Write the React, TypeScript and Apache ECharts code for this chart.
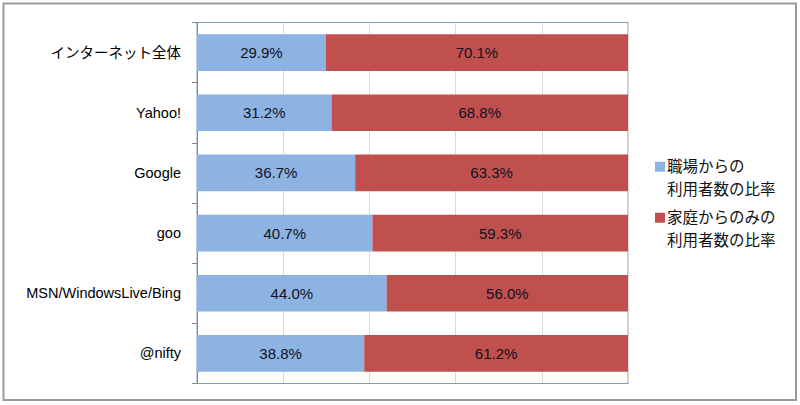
import React, { useEffect, useRef } from "react";
import * as echarts from "echarts";

const categories = ["インターネット全体", "Yahoo!", "Google", "goo", "MSN/WindowsLive/Bing", "@nifty"];
const workShare = [29.9, 31.2, 36.7, 40.7, 44.0, 38.8];
const homeOnlyShare = [70.1, 68.8, 63.3, 59.3, 56.0, 61.2];
const seriesNames = ["職場からの利用者数の比率", "家庭からのみの利用者数の比率"];
const legendLines = [
  ["職場からの", "利用者数の比率"],
  ["家庭からのみの", "利用者数の比率"],
];
const colors = ["#8DB3E2", "#C0504D"];

const FONT = "'Liberation Sans', Arial, 'Noto Sans CJK JP', sans-serif";

export default function App() {
  const ref = useRef<HTMLDivElement>(null);
  useEffect(() => {
    if (!ref.current) return;
    const chart = echarts.init(ref.current, null, { renderer: "svg" });
    const labelCfg = {
      show: true,
      position: "inside",
      color: "#111122",
      fontSize: 15,
      fontFamily: FONT,
      formatter: (p: any) => Number(p.value).toFixed(1) + "%",
    };
    const legendFor = (i: number, top: number) => ({
      data: [seriesNames[i]],
      left: 650,
      top,
      orient: "vertical",
      itemWidth: 10,
      itemHeight: 10,
      itemGap: 0,
      icon: "rect",
      selectedMode: false,
      textStyle: { fontSize: 15.5, fontFamily: FONT, color: "#111", lineHeight: 22.5, padding: [0, 0, 0, -3] },
      formatter: () => "\n" + legendLines[i].join("\n"),
    });
    chart.setOption({
      animation: false,
      backgroundColor: "#fff",
      graphic: [
        {
          type: "rect",
          shape: { x: 3.5, y: 3.5, width: 792.5, height: 396.5 },
          style: { fill: "none", stroke: "#9a9a9a", lineWidth: 2 },
          silent: true,
        },
      ],
      legend: [legendFor(0, 128), legendFor(1, 179)],
      grid: {
        left: 197,
        right: 172,
        top: 22.5,
        bottom: 21.5,
        show: true,
        borderColor: "#7F9EC6",
        borderWidth: 1,
        containLabel: false,
      },
      xAxis: {
        type: "value",
        min: 0,
        max: 100,
        interval: 20,
        axisLabel: { show: false },
        axisTick: { show: false },
        axisLine: { show: true, lineStyle: { color: "#7F9EC6" } },
        splitLine: { show: true, lineStyle: { color: "#D9D9D9", width: 1 } },
      },
      yAxis: {
        type: "category",
        data: categories,
        inverse: true,
        axisLine: { show: true, lineStyle: { color: "#868686", width: 1 } },
        axisTick: { show: true, length: 5, inside: false, lineStyle: { color: "#868686" } },
        axisLabel: { fontSize: 14.5, color: "#000", fontFamily: FONT, margin: 16 },
        splitLine: { show: false },
      },
      series: [
        {
          name: seriesNames[0],
          type: "bar",
          stack: "total",
          data: workShare,
          barWidth: "61%",
          itemStyle: { color: colors[0] },
          label: labelCfg,
        },
        {
          name: seriesNames[1],
          type: "bar",
          stack: "total",
          data: homeOnlyShare,
          barWidth: "61%",
          itemStyle: { color: colors[1] },
          label: labelCfg,
        },
      ],
    });
    return () => chart.dispose();
  }, []);
  return (
    <div
      ref={ref}
      style={{ position: "absolute", left: 0, top: 0, width: 800, height: 405 }}
    />
  );
}
